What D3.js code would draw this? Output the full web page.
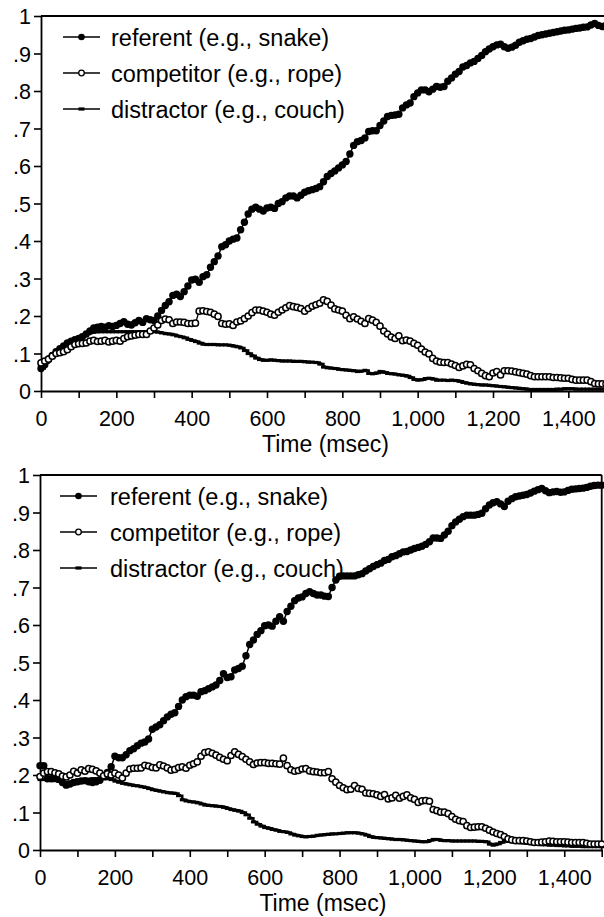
<!DOCTYPE html>
<html><head><meta charset="utf-8">
<script src="https://cdn.jsdelivr.net/npm/d3@7"></script>
<style>
body{margin:0;background:#fff}
svg{display:block}
text{font-family:"Liberation Sans",Arial,Helvetica,sans-serif;fill:#000}
</style>
</head><body>
<svg id="chart" width="604" height="917"></svg>
<script>
// ---- time grid (msec) ----
const timeStart = 0, timeEnd = 1500, timeStep = 10;

// ---- top panel ----
const topReferent = [
0.06,0.07,0.085,0.095,0.105,0.113,0.12,0.128,0.133,0.137,
0.14,0.145,0.152,0.16,0.168,0.17,0.172,0.17,0.174,0.172,
0.175,0.18,0.185,0.178,0.176,0.182,0.188,0.183,0.193,0.19,
0.188,0.2,0.215,0.228,0.238,0.255,0.258,0.252,0.265,0.28,
0.296,0.298,0.29,0.305,0.31,0.33,0.345,0.36,0.385,0.39,
0.4,0.405,0.408,0.43,0.45,0.472,0.485,0.49,0.485,0.48,
0.488,0.49,0.487,0.5,0.505,0.515,0.52,0.52,0.515,0.522,
0.53,0.534,0.537,0.54,0.545,0.558,0.572,0.58,0.587,0.595,
0.603,0.612,0.632,0.655,0.665,0.668,0.675,0.692,0.694,0.694,
0.708,0.72,0.732,0.735,0.736,0.738,0.755,0.763,0.768,0.785,
0.795,0.803,0.803,0.798,0.805,0.812,0.81,0.812,0.826,0.835,
0.845,0.852,0.864,0.868,0.875,0.879,0.887,0.895,0.905,0.912,
0.918,0.923,0.925,0.918,0.914,0.917,0.922,0.93,0.934,0.938,
0.94,0.944,0.948,0.95,0.952,0.954,0.956,0.958,0.96,0.962,
0.963,0.965,0.967,0.968,0.97,0.971,0.976,0.98,0.975,0.972,
0.975];
const topCompetitor = [
0.075,0.08,0.085,0.093,0.1,0.102,0.105,0.11,0.118,0.124,
0.126,0.127,0.128,0.133,0.135,0.132,0.133,0.135,0.131,0.133,
0.135,0.133,0.14,0.145,0.147,0.149,0.151,0.151,0.151,0.16,
0.168,0.176,0.188,0.192,0.19,0.18,0.184,0.184,0.183,0.18,
0.18,0.181,0.213,0.214,0.212,0.21,0.205,0.199,0.18,0.178,
0.179,0.175,0.184,0.187,0.193,0.2,0.209,0.216,0.216,0.213,
0.21,0.205,0.202,0.21,0.216,0.222,0.228,0.225,0.223,0.22,
0.213,0.22,0.226,0.23,0.234,0.243,0.239,0.229,0.219,0.216,
0.213,0.202,0.193,0.198,0.192,0.186,0.18,0.193,0.189,0.183,
0.173,0.16,0.152,0.144,0.14,0.147,0.134,0.136,0.133,0.127,
0.122,0.112,0.104,0.099,0.087,0.08,0.077,0.076,0.076,0.072,
0.068,0.063,0.067,0.071,0.07,0.06,0.054,0.047,0.041,0.038,
0.048,0.052,0.043,0.054,0.054,0.053,0.051,0.049,0.047,0.045,
0.041,0.038,0.038,0.038,0.038,0.038,0.036,0.036,0.035,0.034,
0.034,0.031,0.029,0.029,0.029,0.029,0.025,0.02,0.019,0.019,
0.019];
const topDistractor = [
0.06,0.075,0.088,0.098,0.108,0.115,0.123,0.13,0.135,0.14,
0.143,0.148,0.152,0.155,0.157,0.158,0.158,0.158,0.158,0.158,
0.158,0.158,0.158,0.158,0.158,0.158,0.158,0.158,0.158,0.158,
0.158,0.157,0.155,0.153,0.152,0.15,0.147,0.145,0.142,0.138,
0.135,0.132,0.128,0.125,0.124,0.124,0.124,0.123,0.123,0.123,
0.122,0.12,0.118,0.115,0.108,0.1,0.094,0.088,0.084,0.082,
0.082,0.083,0.082,0.081,0.08,0.08,0.08,0.079,0.079,0.079,
0.078,0.077,0.077,0.076,0.072,0.064,0.062,0.061,0.06,0.058,
0.057,0.056,0.055,0.054,0.052,0.053,0.055,0.047,0.046,0.048,
0.052,0.05,0.047,0.046,0.045,0.043,0.042,0.04,0.036,0.031,
0.029,0.03,0.033,0.034,0.032,0.029,0.029,0.029,0.028,0.029,
0.028,0.026,0.023,0.021,0.019,0.018,0.017,0.016,0.016,0.015,
0.014,0.013,0.012,0.011,0.01,0.009,0.008,0.007,0.006,0.005,
0.004,0.004,0.004,0.004,0.004,0.004,0.004,0.005,0.005,0.006,
0.006,0.006,0.005,0.005,0.005,0.005,0.005,0.005,0.005,0.005,
0.005];

// ---- bottom panel ----
const bottomReferent = [
0.225,0.225,0.19,0.19,0.198,0.19,0.18,0.173,0.176,0.18,
0.182,0.184,0.185,0.182,0.18,0.182,0.186,0.196,0.207,0.222,
0.25,0.246,0.246,0.254,0.265,0.27,0.278,0.285,0.288,0.296,
0.322,0.328,0.334,0.345,0.355,0.362,0.366,0.383,0.4,0.409,
0.413,0.413,0.41,0.422,0.425,0.43,0.435,0.44,0.452,0.47,
0.46,0.462,0.48,0.484,0.49,0.518,0.548,0.56,0.575,0.585,
0.598,0.6,0.597,0.61,0.622,0.61,0.636,0.65,0.665,0.672,
0.675,0.684,0.689,0.684,0.68,0.68,0.677,0.676,0.7,0.72,
0.73,0.731,0.731,0.731,0.731,0.734,0.737,0.744,0.75,0.756,
0.761,0.765,0.772,0.775,0.782,0.785,0.79,0.795,0.796,0.8,
0.804,0.807,0.81,0.815,0.822,0.832,0.832,0.831,0.84,0.85,
0.865,0.875,0.882,0.889,0.893,0.893,0.893,0.895,0.898,0.91,
0.92,0.926,0.929,0.923,0.916,0.93,0.937,0.942,0.944,0.946,
0.948,0.952,0.957,0.961,0.964,0.958,0.953,0.955,0.956,0.954,
0.955,0.959,0.962,0.963,0.964,0.965,0.967,0.97,0.972,0.973,
0.973];
const bottomCompetitor = [
0.196,0.205,0.209,0.209,0.206,0.203,0.197,0.195,0.2,0.21,
0.205,0.214,0.21,0.217,0.215,0.211,0.205,0.198,0.203,0.2,
0.205,0.2,0.192,0.205,0.216,0.218,0.218,0.219,0.226,0.224,
0.22,0.219,0.227,0.224,0.219,0.213,0.215,0.22,0.222,0.218,
0.226,0.23,0.235,0.25,0.26,0.262,0.258,0.253,0.247,0.242,
0.238,0.252,0.262,0.255,0.249,0.242,0.235,0.228,0.232,0.233,
0.233,0.231,0.231,0.23,0.229,0.245,0.225,0.214,0.21,0.212,
0.216,0.217,0.211,0.209,0.208,0.206,0.206,0.209,0.19,0.181,
0.172,0.166,0.161,0.162,0.172,0.164,0.162,0.152,0.151,0.15,
0.147,0.143,0.148,0.136,0.139,0.146,0.138,0.143,0.147,0.139,
0.135,0.127,0.131,0.132,0.13,0.108,0.105,0.101,0.101,0.097,
0.089,0.082,0.078,0.076,0.065,0.06,0.061,0.062,0.062,0.058,
0.053,0.048,0.044,0.041,0.036,0.03,0.027,0.025,0.025,0.025,
0.024,0.022,0.02,0.02,0.021,0.022,0.024,0.023,0.022,0.022,
0.022,0.021,0.02,0.02,0.02,0.02,0.018,0.016,0.016,0.016,
0.016];
const bottomDistractor = [
0.188,0.188,0.187,0.186,0.185,0.183,0.18,0.179,0.181,0.184,
0.186,0.187,0.188,0.189,0.19,0.19,0.19,0.19,0.19,0.188,
0.184,0.181,0.178,0.176,0.174,0.172,0.171,0.169,0.167,0.164,
0.161,0.159,0.157,0.155,0.153,0.152,0.151,0.145,0.134,0.131,
0.129,0.128,0.126,0.123,0.12,0.119,0.118,0.117,0.116,0.114,
0.111,0.108,0.106,0.104,0.1,0.094,0.085,0.075,0.069,0.064,
0.06,0.058,0.055,0.053,0.05,0.049,0.047,0.043,0.04,0.038,
0.036,0.035,0.036,0.037,0.039,0.04,0.041,0.042,0.043,0.043,
0.044,0.045,0.046,0.046,0.046,0.045,0.043,0.04,0.036,0.034,
0.033,0.032,0.031,0.03,0.029,0.028,0.028,0.027,0.026,0.025,
0.024,0.023,0.022,0.022,0.025,0.028,0.028,0.026,0.025,0.025,
0.024,0.024,0.024,0.024,0.024,0.024,0.024,0.023,0.023,0.022,
0.016,0.013,0.016,0.02,0.024,0.023,0.022,0.021,0.02,0.019,
0.018,0.017,0.016,0.015,0.014,0.014,0.013,0.013,0.012,0.012,
0.011,0.011,0.01,0.01,0.01,0.009,0.009,0.009,0.009,0.009,
0.009];

// ---- labels & ticks ----
const seriesNames = ["referent (e.g., snake)", "competitor (e.g., rope)", "distractor (e.g., couch)"];
const xTickValues = d3.range(0, 1501, 100);
const xLabelValues = d3.range(0, 1401, 200);
const yTickValues = d3.range(0, 11).map(i => i / 10);
const yTickLabels = ["0", ".1", ".2", ".3", ".4", ".5", ".6", ".7", ".8", ".9", "1"];
const xTitle = "Time (msec)";

const svg = d3.select("#chart");
const times = d3.range(timeStart, timeEnd + 1, timeStep);

const panels = [
  {ref: topReferent, comp: topCompetitor, dist: topDistractor,
   left: 41, right: 606, top: 16, bottom: 391, legX: 63, textX: 111, legY: 37, titleY: 452},
  {ref: bottomReferent, comp: bottomCompetitor, dist: bottomDistractor,
   left: 40, right: 601.7, top: 475, bottom: 850, legX: 60, textX: 110, legY: 496, titleY: 911}
];

const FONT = '"Liberation Sans",Arial,sans-serif';

function drawPanel(p) {
  const x = d3.scaleLinear().domain([timeStart, timeEnd]).range([p.left, p.right]);
  const y = d3.scaleLinear().domain([0, 1]).range([p.bottom, p.top]);
  const g = svg.append("g");

  // frame (top + right)
  g.append("line").attr("x1", p.left).attr("x2", p.right).attr("y1", p.top).attr("y2", p.top)
    .attr("stroke", "#000").attr("stroke-width", 1.8);
  g.append("line").attr("x1", p.right).attr("x2", p.right).attr("y1", p.top).attr("y2", p.bottom)
    .attr("stroke", "#000").attr("stroke-width", 1.8);

  // x axis
  const xAxis = d3.axisBottom(x).tickValues(xTickValues).tickSize(7).tickSizeOuter(0)
    .tickFormat(d => xLabelValues.includes(d) ? d3.format(",")(d) : "");
  const xg = g.append("g").attr("transform", `translate(0,${p.bottom})`).call(xAxis);
  xg.select(".domain").attr("stroke-width", 1.8);
  xg.selectAll(".tick line").attr("stroke-width", 1.6);
  xg.selectAll(".tick text").attr("y", 35).attr("dy", null)
    .style("font-size", "21.5px").style("font-family", FONT);

  // y axis
  const yAxis = d3.axisLeft(y).tickValues(yTickValues).tickSize(7).tickSizeOuter(0)
    .tickFormat((d, i) => yTickLabels[i]);
  const yg = g.append("g").attr("transform", `translate(${p.left},0)`).call(yAxis);
  yg.select(".domain").attr("stroke-width", 1.8);
  yg.selectAll(".tick line").attr("stroke-width", 1.6);
  yg.selectAll(".tick text").attr("x", -10).attr("dy", "0.36em")
    .style("font-size", "21.5px").style("font-family", FONT);

  // x title
  g.append("text").attr("x", (x(timeStart) + x(timeEnd)) / 2 + 2).attr("y", p.titleY)
    .attr("text-anchor", "middle").style("font-size", "23px").text(xTitle);

  const pts = arr => times.map((t, i) => [t, arr[i]]).filter(d => d[1] !== undefined);
  const lineGen = d3.line().x(d => x(d[0])).y(d => y(d[1]));

  // distractor
  g.append("path").datum(pts(p.dist)).attr("d", lineGen.curve(d3.curveStepAfter))
    .attr("fill", "none").attr("stroke", "#000").attr("stroke-width", 2.4);
  lineGen.curve(d3.curveLinear);
  g.append("g").selectAll("rect").data(pts(p.dist)).join("rect")
    .attr("x", d => x(d[0]) - 2.5).attr("y", d => y(d[1]) - 1.6)
    .attr("width", 5).attr("height", 3.2).attr("fill", "#000");

  // referent
  g.append("path").datum(pts(p.ref)).attr("d", lineGen)
    .attr("fill", "none").attr("stroke", "#000").attr("stroke-width", 1.5);
  g.append("g").selectAll("circle").data(pts(p.ref)).join("circle")
    .attr("cx", d => x(d[0])).attr("cy", d => y(d[1])).attr("r", 3.7).attr("fill", "#000");

  // competitor
  g.append("path").datum(pts(p.comp)).attr("d", lineGen)
    .attr("fill", "none").attr("stroke", "#000").attr("stroke-width", 1.3);
  g.append("g").selectAll("circle").data(pts(p.comp)).join("circle")
    .attr("cx", d => x(d[0])).attr("cy", d => y(d[1])).attr("r", 3.1)
    .attr("fill", "#fff").attr("stroke", "#000").attr("stroke-width", 1.5);

  // legend
  seriesNames.forEach((name, i) => {
    const cy = p.legY + i * 36;
    const lg = g.append("g");
    lg.append("line").attr("x1", p.legX).attr("x2", p.legX + 37).attr("y1", cy).attr("y2", cy)
      .attr("stroke", "#000").attr("stroke-width", 1.6);
    const cx = p.legX + 18.5;
    if (i === 0) lg.append("circle").attr("cx", cx).attr("cy", cy).attr("r", 3.3).attr("fill", "#000");
    else if (i === 1) lg.append("circle").attr("cx", cx).attr("cy", cy).attr("r", 2.8)
      .attr("fill", "#fff").attr("stroke", "#000").attr("stroke-width", 1.3);
    else lg.append("rect").attr("x", cx - 3).attr("y", cy - 1.6).attr("width", 6).attr("height", 3.2).attr("fill", "#000");
    lg.append("text").attr("x", p.textX).attr("y", cy + 8.5).style("font-size", "23.5px").text(name);
  });
}

panels.forEach(drawPanel);
</script>
</body></html>
